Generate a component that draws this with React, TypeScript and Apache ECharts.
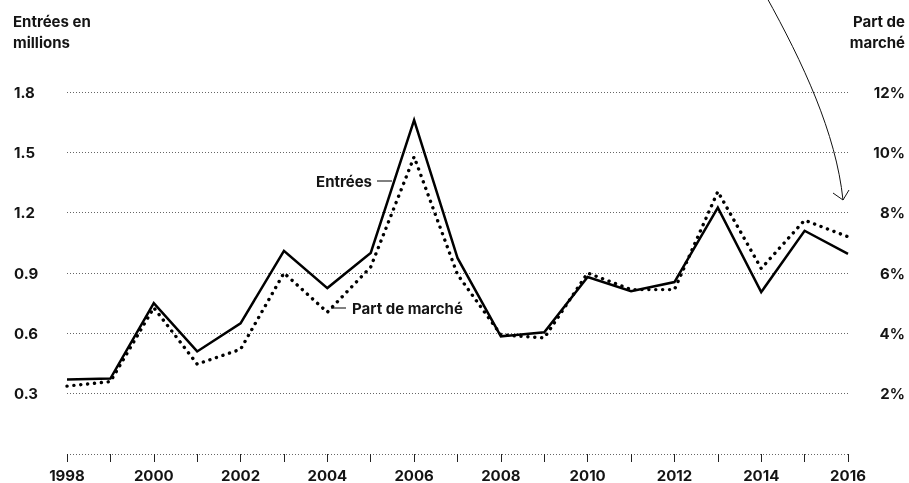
import React, { useEffect, useRef } from "react";
import * as echarts from "echarts";

const years = ["1998","1999","2000","2001","2002","2003","2004","2005","2006","2007","2008","2009","2010","2011","2012","2013","2014","2015","2016"];
const entrees = [0.37, 0.375, 0.75, 0.51, 0.65, 1.01, 0.825, 1.0, 1.66, 0.975, 0.585, 0.605, 0.88, 0.81, 0.855, 1.225, 0.805, 1.11, 0.995];
const partMarche = [2.25, 2.4, 4.85, 2.98, 3.47, 6.0, 4.7, 6.2, 9.85, 5.95, 3.95, 3.85, 6.0, 5.45, 5.45, 8.7, 6.15, 7.75, 7.2];
const leftTitle = ["Entrées en", "millions"];
const rightTitle = ["Part de", "marché"];
const seriesNames = ["Entrées", "Part de marché"];

const FONT = "Inter";
const INK = "#141414";
const FS = 15;
const FW = 700;

export default function App() {
  const ref = useRef<HTMLDivElement>(null);
  useEffect(() => {
    if (!ref.current) return;
    const chart = echarts.init(ref.current, null, { renderer: "svg" });
    const txt = (text: string, x: number, y: number, align: string) => ({
      type: "text",
      x,
      y,
      silent: true,
      style: {
        text,
        fill: INK,
        font: `${FW} ${FS}px ${FONT}`,
        align,
        verticalAlign: "middle",
        textAlign: align,
        textVerticalAlign: "middle",
      },
    });
    const labelStyle = { color: INK, fontFamily: FONT, fontWeight: FW, fontSize: FS };
    chart.setOption({
      animation: false,
      grid: { left: 67, right: 61, top: 92, bottom: 29, containLabel: false },
      xAxis: {
        type: "category",
        data: years,
        boundaryGap: false,
        axisLine: { show: false },
        axisTick: { show: true, interval: 0, length: 8, lineStyle: { color: "#222", width: 1 } },
        axisLabel: { ...labelStyle, interval: 1, margin: 15, lineHeight: 12 },
        splitLine: { show: false },
      },
      yAxis: [
        {
          type: "value",
          min: 0,
          max: 1.8,
          interval: 0.3,
          axisLine: { show: false },
          axisTick: { show: false },
          axisLabel: {
            ...labelStyle,
            align: "left",
            margin: 53,
            formatter: (v: number) => (v === 0 ? "" : v.toFixed(1)),
          },
          splitLine: { show: true, lineStyle: { color: "#666", width: 1, type: [1, 2] } },
        },
        {
          type: "value",
          min: 0,
          max: 12,
          interval: 2,
          position: "right",
          axisLine: { show: false },
          axisTick: { show: false },
          axisLabel: {
            ...labelStyle,
            align: "right",
            margin: 57,
            formatter: (v: number) => (v === 0 ? "" : v + "%"),
          },
          splitLine: { show: false },
        },
      ],
      series: [
        {
          name: seriesNames[1],
          type: "line",
          yAxisIndex: 1,
          data: partMarche,
          showSymbol: false,
          symbol: "none",
          lineStyle: { color: "#000", width: 3.4, type: [0.1, 6.8], cap: "round", join: "round" },
          z: 2,
        },
        {
          name: seriesNames[0],
          type: "line",
          yAxisIndex: 0,
          data: entrees,
          showSymbol: false,
          symbol: "none",
          lineStyle: { color: "#000", width: 2.5, join: "miter", miterLimit: 10 },
          z: 3,
        },
      ],
      graphic: [
        txt(leftTitle[0], 13, 21, "left"),
        txt(leftTitle[1], 13, 42, "left"),
        txt(rightTitle[0], 905, 21, "right"),
        txt(rightTitle[1], 905, 42, "right"),
        txt(seriesNames[0], 372, 181, "right"),
        { type: "line", silent: true, shape: { x1: 377, y1: 181, x2: 392, y2: 181 }, style: { stroke: "#000", lineWidth: 1 } },
        txt(seriesNames[1], 352, 308, "left"),
        { type: "line", silent: true, shape: { x1: 331, y1: 308, x2: 346, y2: 308 }, style: { stroke: "#000", lineWidth: 1 } },
        {
          type: "bezierCurve",
          silent: true,
          shape: { x1: 766, y1: -4, cpx1: 803, cpy1: 63, cpx2: 836, cpy2: 133, x2: 843, y2: 200 },
          style: { stroke: "#111", lineWidth: 1, fill: "none" },
        },
        {
          type: "polyline",
          silent: true,
          shape: { points: [[833, 193], [843, 200], [849, 190]] },
          style: { stroke: "#111", lineWidth: 1, fill: "none" },
        },
      ],
    });
    return () => chart.dispose();
  }, []);
  return <div ref={ref} style={{ position: "fixed", left: 0, top: 0, width: 909, height: 483 }} />;
}
